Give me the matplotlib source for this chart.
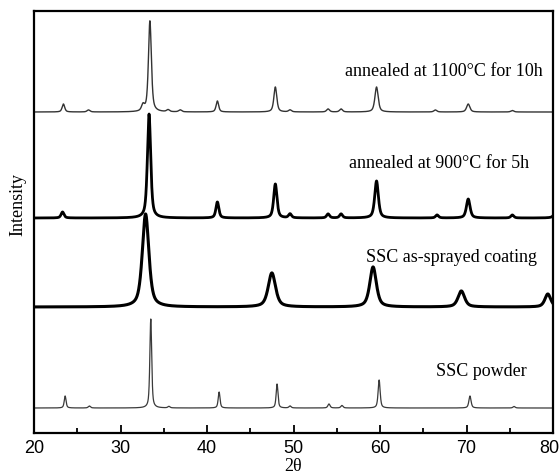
import numpy as np
import matplotlib
matplotlib.use("Agg")
import matplotlib.pyplot as plt
import matplotlib.transforms as mtransforms

# ---- data (intensities in arbitrary units) ----
x_ticks = [20, 30, 40, 50, 60, 70, 80]

# annealed at 1100 C for 10h
a1100_base = 321
a1100_pos = [23.4, 26.3, 32.6, 33.4, 35.5, 36.9, 41.2, 47.9, 49.6, 54.0, 55.5, 59.6, 66.4, 70.2, 75.3]
a1100_hgt = [8, 2, 6, 91, 2, 2, 11, 25, 2, 3, 3, 25, 2, 8, 1.5]
a1100_fwhm = [0.35, 0.4, 0.4, 0.4, 0.4, 0.4, 0.35, 0.4, 0.4, 0.4, 0.4, 0.45, 0.4, 0.45, 0.4]

# annealed at 900 C for 5h
a900_base = 215
a900_pos = [23.3, 33.3, 41.2, 47.9, 49.6, 54.0, 55.5, 59.6, 66.6, 70.2, 75.3, 80.4]
a900_hgt = [6, 104, 16, 34, 4, 4, 4, 37, 3, 19, 3, 10]
a900_fwhm = [0.4, 0.45, 0.4, 0.45, 0.4, 0.4, 0.4, 0.5, 0.4, 0.5, 0.4, 0.5]

# SSC as-sprayed coating
spray_base = 126
spray_pos = [32.9, 47.5, 59.2, 69.4, 79.4]
spray_hgt = [93, 34, 40, 16, 13]
spray_fwhm = [0.9, 1.0, 0.9, 0.9, 0.8]

# SSC powder
powder_base = 25
powder_pos = [23.6, 26.4, 33.5, 35.6, 41.4, 48.1, 49.6, 54.1, 55.6, 59.9, 70.4, 75.5]
powder_hgt = [12, 2, 89, 1.5, 16, 24, 2, 4, 2.5, 28, 12, 1.5]
powder_fwhm = [0.25, 0.3, 0.25, 0.3, 0.25, 0.25, 0.3, 0.3, 0.3, 0.28, 0.3, 0.3]

labels = ["annealed at 1100\u00b0C for 10h", "annealed at 900\u00b0C for 5h",
          "SSC as-sprayed coating", "SSC powder"]

# ---- build patterns from the read peak list ----
two_theta = np.linspace(20, 80, 4001)


def pattern(base, pos, hgt, fwhm, eta=0.6):
    y = np.full_like(two_theta, float(base))
    for p, h, w in zip(pos, hgt, fwhm):
        g = np.exp(-4 * np.log(2) * ((two_theta - p) / w) ** 2)
        l = 1.0 / (1.0 + 4 * ((two_theta - p) / w) ** 2)
        y += h * (eta * l + (1 - eta) * g)
    return y


fig = plt.figure(figsize=(5.6, 4.77), dpi=100)
ax = fig.add_axes([34 / 560, 1 - 434 / 477, (553 - 34) / 560, (434 - 12) / 477])

series = [
    (a1100_base, a1100_pos, a1100_hgt, a1100_fwhm, "#333333", 1.0),
    (a900_base, a900_pos, a900_hgt, a900_fwhm, "#000000", 2.0),
    (spray_base, spray_pos, spray_hgt, spray_fwhm, "#000000", 2.2),
    (powder_base, powder_pos, powder_hgt, powder_fwhm, "#3a3a3a", 0.9),
]
for base, pos, hgt, fw, col, lw in series:
    ax.plot(two_theta, pattern(base, pos, hgt, fw), color=col, lw=lw)

ax.set_xlim(20, 80)
ax.set_ylim(0, 422)
ax.set_xticks(x_ticks)
ax.set_xticks(np.arange(25, 80, 10), minor=True)
ax.set_yticks([])
ax.tick_params(axis="x", which="major", direction="in", length=6, width=1.3,
               labelsize=13, pad=4)
ax.tick_params(axis="x", which="minor", direction="in", length=3.5, width=1.3)
tick_labels = ax.get_xticklabels()
for lab in tick_labels:
    lab.set_family("Liberation Sans")
# keep the last label ("80") inside the canvas, as in the reference
tick_labels[-1].set_transform(tick_labels[-1].get_transform() +
                              mtransforms.ScaledTranslation(-4 / 100, 0, fig.dpi_scale_trans))
for s in ax.spines.values():
    s.set_linewidth(1.6)

serif = "Liberation Serif"
txt_x = [78.8, 77.2, 78.2, 77.0]
txt_y = [434 - 72, 434 - 163, 434 - 258, 434 - 372]
for t, tx, ty in zip(labels, txt_x, txt_y):
    ax.text(tx, ty, t, ha="right", va="center", family=serif, fontsize=13)

fig.text(18 / 560, 1 - 205 / 477, "Intensity", rotation=90, ha="center",
         va="center", family=serif, fontsize=13)
fig.text((34 + 553) / 2 / 560, 1 - 467 / 477, "2\u03b8", ha="center",
         va="center", family=serif, fontsize=13)

fig.savefig("out.png", dpi=100)
